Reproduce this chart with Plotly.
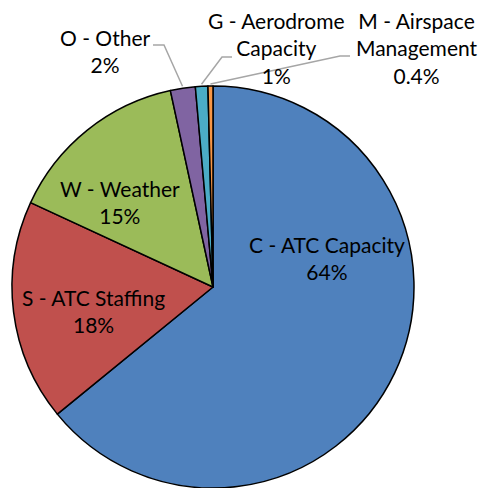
import math
import textwrap
import plotly.graph_objects as go

# Delay causes and their share of total delay (%)
categories = [
    "C - ATC Capacity",
    "S - ATC Staffing",
    "W - Weather",
    "O - Other",
    "G - Aerodrome Capacity",
    "M - Airspace Management",
]
shares = [64.1, 17.8, 14.7, 2.0, 1.0, 0.4]
colors = ["#4F81BD", "#C0504D", "#9BBB59", "#8064A2", "#4BACC6", "#F79646"]

W, H = 481, 488
CX, CY, R = 213, 287, 201          # pie centre and radius in pixels
FONT = dict(family="Lato, Liberation Sans, sans-serif", size=21, color="#000000")

# label centres (pixels) and leader-line elbows for small slices
label_pos = [(327, 258), (93, 311), (120, 202), (105, 51), (276, 48), (417, 48)]
elbows = [None, None, None, [(164, 45), (153, 45)], [(222, 57), (232, 57)], [(340, 56), (350, 56)]]


def px(x, y):
    return x / W, 1 - y / H


def pct(v):
    return f"{v:.0f}%" if v >= 1 else f"{v:.1f}%"


fig = go.Figure(
    go.Pie(
        labels=categories,
        values=shares,
        sort=False,
        direction="clockwise",
        rotation=0,
        marker=dict(colors=colors, line=dict(color="#000000", width=1.5)),
        textinfo="none",
        hoverinfo="label+percent",
        showlegend=False,
        domain=dict(x=[(CX - R) / W, (CX + R) / W], y=[1 - (CY + R) / H, 1 - (CY - R) / H]),
    )
)

total = sum(shares)
cum = 0.0
annotations, shapes = [], []
for i, (name, v) in enumerate(zip(categories, shares)):
    mid = (cum + v / 2) / total * 2 * math.pi
    cum += v
    outside = elbows[i] is not None
    text = "<br>".join(textwrap.wrap(name, 14)) if outside else name
    lx, ly = px(*label_pos[i])
    annotations.append(dict(
        x=lx, y=ly, xref="paper", yref="paper", showarrow=False,
        text=f"{text}<br>{pct(v)}", font=FONT, xanchor="center", yanchor="middle",
    ))
    if outside:
        ax = CX + R * 1.01 * math.sin(mid)
        ay = CY - R * 1.01 * math.cos(mid)
        pts = [px(ax, ay)] + [px(*p) for p in elbows[i]]
        path = "M " + " L ".join(f"{x:.5f},{y:.5f}" for x, y in pts)
        shapes.append(dict(type="path", xref="paper", yref="paper", path=path,
                           line=dict(color="#A6A6A6", width=1.5)))

fig.update_layout(
    width=W, height=H,
    margin=dict(l=0, r=0, t=0, b=0),
    paper_bgcolor="#FFFFFF",
    plot_bgcolor="#FFFFFF",
    annotations=annotations,
    shapes=shapes,
)

fig.write_html("out.html")
